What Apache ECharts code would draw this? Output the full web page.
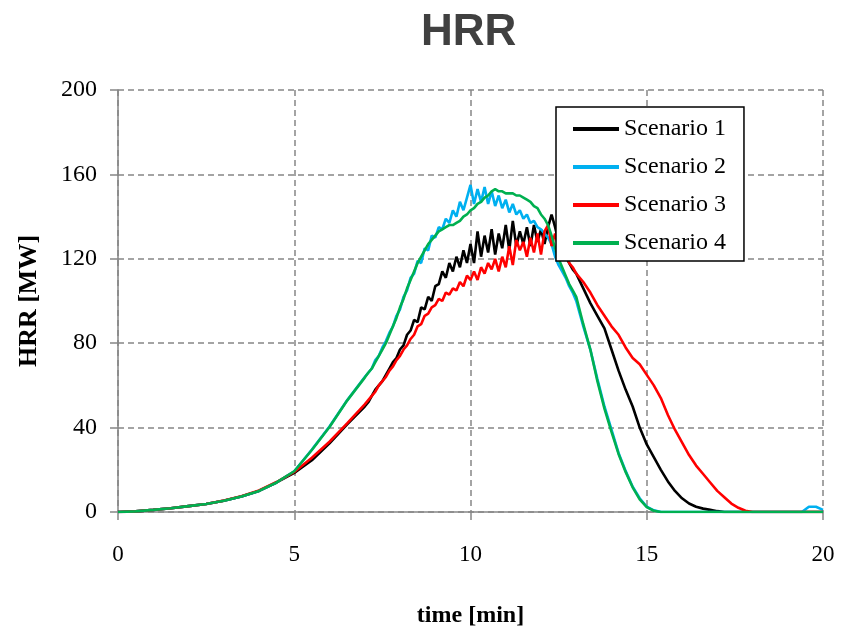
<!DOCTYPE html>
<html>
<head>
<meta charset="utf-8">
<script src="https://cdn.jsdelivr.net/npm/echarts@6/dist/echarts.min.js"></script>
<style>html,body{margin:0;padding:0;background:#fff;}#c{width:845px;height:633px;}</style>
</head>
<body>
<div id="c"></div>
<script>
const times = [0,0.5,1,1.5,2,2.5,3,3.5,4,4.5,5,5.5,6,6.5,7,
7.1,7.2,7.3,7.4,7.5,7.6,7.7,7.8,7.9,8,
8.1,8.2,8.3,8.4,8.5,8.6,8.7,8.8,8.9,9,
9.1,9.2,9.3,9.4,9.5,9.6,9.7,9.8,9.9,10,
10.1,10.2,10.3,10.4,10.5,10.6,10.7,10.8,10.9,11,
11.1,11.2,11.3,11.4,11.5,11.6,11.7,11.8,11.9,12,
12.1,12.2,12.3,12.4,12.5,12.6,12.7,12.8,12.9,13,
13.2,13.4,13.6,13.8,14,14.2,14.4,14.6,14.8,15,15.2,15.4,15.6,15.8,16,16.2,16.4,16.6,16.8,17,
17.2,17.4,17.6,17.8,18,18.2,18.4,18.6,18.8,19,19.2,19.4,19.6,19.8,20];

const seriesNames = ['Scenario 1','Scenario 2','Scenario 3','Scenario 4'];

const scenario1 = [0,0.3,1,1.8,2.8,3.8,5.3,7.3,10,14,18.5,24.5,32.5,41.5,50,
52,55,58,60,62,65,68,71,73,77,
79,84,86,91,90,97,96,102,100,107,
108,114,111,118,114,121,116,124,118,127,
118,133,121,131,123,134,122,132,125,136,
124,138,126,133,127,135,126,136,128,134,
127,135,141,135,128,126,121,118,115,113,
106,99,93,87,77,67,58,50,40,32,26,20,14.5,10,6.5,4,2.5,1.6,1.0,0.4,
0,0,0,0,0,0,0,0,0,0,0,0,0,0,0];

const scenario2 = [0,0.3,1,1.8,2.8,3.8,5.3,7.3,10,14,19.3,29.6,40.5,53,64,
66,68,72,74,78,81,85,88,93,96,
102,105,111,113,119,118,125,124,131,130,
135,134,139,137,143,140,147,143,149,155,
146,153,147,154,146,152,145,150,144,148,
142,146,141,143,139,141,137,138,135,134,
132,130,127,121,117,114,111,107,104,100,
88,77,63,50,39,28,19.5,12,6.5,2.5,0.8,0,0,0,0,0,0,0,0,0,
0,0,0,0,0,0,0,0,0,0,0,0,2.5,2.5,1];

const scenario3 = [0,0.3,1,1.8,2.8,3.8,5.4,7.5,10.2,14.2,19,25.7,33.3,42,51,
53,55,57,60,62,64,67,69,72,74,
77,79,82,84,88,89,93,94,97,98,
101,100,104,103,106,105,109,107,112,110,
114,110,116,113,118,115,120,114,121,116,
126,117,129,124,128,121,130,123,132,122,
133,136,126,132,125,134,124,118,116,113,
109,104,98,93,88,84,78,73,70,65,60,54,46,39,33,27,22,18,14,10,
7,4,2,0.6,0,0,0,0,0,0,0,0,0,0,0];

const scenario4 = [0,0.3,1,1.8,2.8,3.8,5.3,7.3,10,14,19.3,29.4,40.3,52.8,63.7,
66,68,71,74,77,80,84,88,92,97,
101,106,110,114,118,121,124,127,129,131,
133,134,135,136,136,137,138,140,141,143,
144,146,147,149,150,152,153,152,152,151,
151,151,150,150,149,148,147,145,144,141,
139,136,131,125,120,116,112,108,105,102,
89,77,62,49,38,27.5,19,11.7,6,2.3,0.6,0,0,0,0,0,0,0,0,0,
0,0,0,0,0,0,0,0,0,0,0,0,0,0,0];

const colors = ['#000000','#00B0F0','#FF0000','#00B050'];
const allValues = [scenario1, scenario2, scenario3, scenario4];

const serif = "'Liberation Serif', 'Times New Roman', serif";
const gridColor = '#868686';

const chart = echarts.init(document.getElementById('c'), null, {renderer:'canvas'});
chart.setOption({
  animation: false,
  backgroundColor: '#ffffff',
  color: colors,
  title: {
    text: 'HRR',
    left: 416, top: 6,
    textStyle: {fontFamily: "'Liberation Sans', Arial, sans-serif", fontWeight: 'bold', fontSize: 44, color: '#404040'}
  },
  grid: {left: 118, right: 22, top: 90, bottom: 115, containLabel: false},
  legend: {
    orient: 'vertical',
    left: 556, top: 107,
    padding: [10, 18, 6, 17],
    borderColor: '#000', borderWidth: 1.5,
    backgroundColor: '#fff',
    itemWidth: 46, itemHeight: 4, itemGap: 14,
    icon: 'rect',
    textStyle: {fontFamily: serif, fontSize: 24, color: '#000'},
    data: seriesNames
  },
  xAxis: {
    type: 'value', min: 0, max: 20, interval: 5,
    name: 'time [min]', nameLocation: 'middle', nameGap: 92,
    nameTextStyle: {fontFamily: serif, fontWeight: 'bold', fontSize: 24, color: '#000'},
    axisLine: {show: true, lineStyle: {color: gridColor, width: 1.5}},
    axisTick: {show: true, inside: false, length: 8, lineStyle: {color: gridColor, width: 1.5}},
    axisLabel: {fontFamily: serif, fontSize: 23, color: '#000', margin: 31},
    splitLine: {show: true, lineStyle: {color: gridColor, width: 1.5, type: [6, 4]}}
  },
  yAxis: {
    type: 'value', min: 0, max: 200, interval: 40,
    name: 'HRR [MW]', nameLocation: 'middle', nameGap: 76, nameRotate: 90,
    nameTextStyle: {fontFamily: serif, fontWeight: 'bold', fontSize: 26, color: '#000'},
    axisLine: {show: true, lineStyle: {color: gridColor, width: 1.5}},
    axisTick: {show: true, inside: false, length: 8, lineStyle: {color: gridColor, width: 1.5}},
    axisLabel: {fontFamily: serif, fontSize: 24, color: '#000', margin: 21},
    splitLine: {show: true, lineStyle: {color: gridColor, width: 1.5, type: [6, 4]}}
  },
  series: seriesNames.map((name, k) => ({
    name: name,
    type: 'line',
    showSymbol: false,
    symbol: 'none',
    data: times.map((t, i) => [t, allValues[k][i]]),
    lineStyle: {width: 2.6, color: colors[k]},
    itemStyle: {color: colors[k]}
  }))
});
</script>
</body>
</html>
